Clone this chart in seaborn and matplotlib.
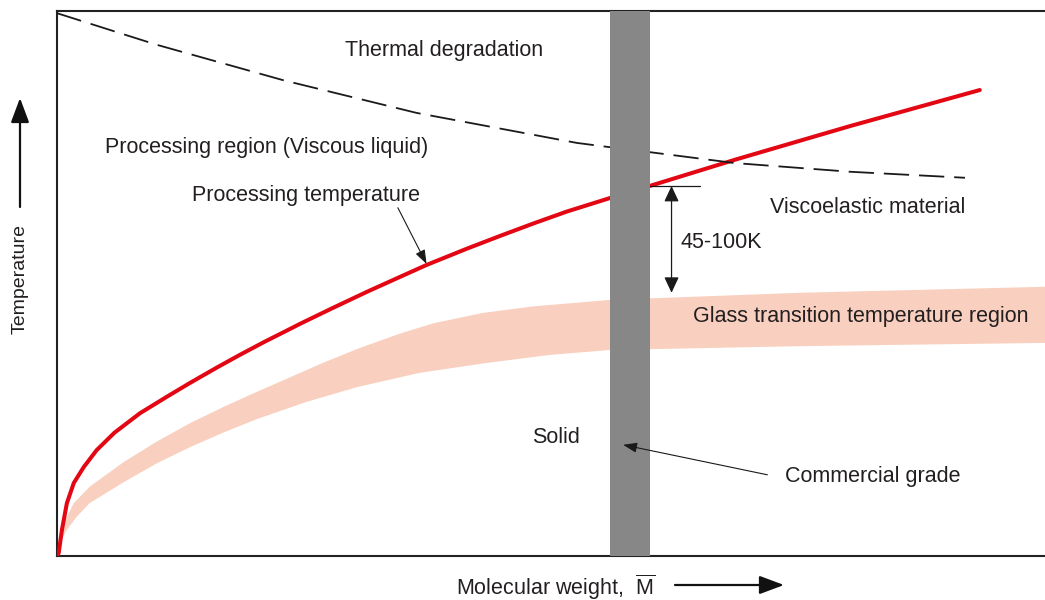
import numpy as np
import pandas as pd
import matplotlib
matplotlib.use("Agg")
import matplotlib.pyplot as plt
import seaborn as sns

# arbitrary units: molecular weight 0..100, temperature 0..100
proc_x = [0, 0.17, 0.5, 1.0, 1.7, 2.7, 4.0, 5.8, 8.4, 11.1, 13.5, 16.2, 18.5, 21.0, 23.3,
          24.6, 27.9, 31.4, 34.7, 37.4, 41.5, 44.8, 48.2, 51.6, 56.0, 60.0, 68.6, 80.3, 93.4]
proc_y = [0, 0.55, 4.8, 9.7, 13.4, 16.3, 19.4, 22.6, 26.2, 29.2, 31.8, 34.6, 36.9, 39.3, 41.4,
          42.6, 45.5, 48.5, 51.2, 53.4, 56.4, 58.7, 61.0, 63.2, 65.7, 67.9, 72.7, 78.9, 85.5]

degr_x = [0, 10.1, 22.9, 36.4, 52.6, 56.0, 60.0, 68.6, 80.3, 91.9]
degr_y = [99.6, 93.8, 87.3, 81.3, 75.8, 75.0, 74.1, 72.1, 70.5, 69.4]

tg_hi_x = [0, 0.17, 0.7, 1.7, 3.3, 6.8, 10.1, 13.5, 16.9, 20.2, 23.6, 27.0, 30.4, 34.7,
           38.1, 43.1, 48.2, 56.0, 75.2, 100]
tg_hi_y = [0, 2.4, 6.1, 9.7, 12.7, 17.3, 21.0, 24.4, 27.4, 30.1, 32.8, 35.5, 38.0, 40.8,
           42.7, 44.6, 45.8, 47.0, 48.3, 49.4]
tg_lo_x = [0, 0.3, 1.0, 2.0, 3.3, 6.8, 10.1, 13.5, 16.9, 20.2, 25.3, 30.4, 36.7, 43.4,
           49.9, 56.0, 75.2, 100]
tg_lo_y = [0, 2.4, 4.8, 7.2, 9.7, 13.6, 17.0, 20.0, 22.7, 25.1, 28.3, 31.0, 33.6, 35.4,
           36.9, 37.8, 38.5, 39.1]

grade_lo, grade_hi = 56.0, 60.0
gap_top, gap_bottom, gap_x = 67.9, 48.3, 62.2

sns.set_theme(style="white")
plt.rcParams['font.family'] = ['Liberation Sans', 'DejaVu Sans']
plt.rcParams['mathtext.fontset'] = 'custom'
plt.rcParams['mathtext.rm'] = 'Liberation Sans'

RED = "#e30613"
BAND = "#f9d0bf"
GREY = "#878787"
TXT = "#231f20"

fig = plt.figure(figsize=(10.45, 6), dpi=100)
ax = fig.add_axes([57/1045, 44/600, 988/1045, 545/600])
ax.set_xlim(0, 100)
ax.set_ylim(0, 100)

# glass transition band
ax.fill(tg_hi_x + tg_lo_x[::-1], tg_hi_y + tg_lo_y[::-1], color=BAND, lw=0, zorder=1)

df_p = pd.DataFrame({"M": proc_x, "T": proc_y})
sns.lineplot(data=df_p, x="M", y="T", ax=ax, sort=False, estimator=None,
             color=RED, linewidth=2.9, zorder=3)
df_d = pd.DataFrame({"M": degr_x, "T": degr_y})
sns.lineplot(data=df_d, x="M", y="T", ax=ax, sort=False, estimator=None,
             color="#1a1a1a", linewidth=1.3, linestyle=(0, (14, 5.5)), zorder=3)

# commercial grade bar
ax.axvspan(grade_lo, grade_hi, color=GREY, lw=0, zorder=4)

# 45-100K dimension
ax.plot([grade_hi, 65.1], [gap_top, gap_top], color="#1a1a1a", lw=0.9, zorder=5)
ax.annotate("", xy=(gap_x, gap_bottom), xytext=(gap_x, gap_top),
            arrowprops=dict(arrowstyle="<|-|>,head_length=0.6,head_width=0.28",
                            mutation_scale=16, color="#1a1a1a", lw=0.9,
                            shrinkA=0, shrinkB=0), zorder=5)

fs = 15.5
ax.text(29.1, 92.8, "Thermal degradation", fontsize=fs, color=TXT, va="center")
ax.text(4.9, 74.9, "Processing region (Viscous liquid)", fontsize=fs, color=TXT, va="center")
ax.text(13.7, 66.2, "Processing temperature", fontsize=fs, color=TXT, va="center")
ax.text(72.2, 63.9, "Viscoelastic material", fontsize=fs, color=TXT, va="center")
ax.text(63.1, 57.6, "45-100K", fontsize=fs, color=TXT, va="center")
ax.text(64.4, 44.0, "Glass transition temperature region", fontsize=fs, color=TXT, va="center")
ax.text(48.1, 21.7, "Solid", fontsize=fs, color=TXT, va="center")
ax.text(73.7, 14.5, "Commercial grade", fontsize=fs, color=TXT, va="center")

thin = dict(arrowstyle="-|>,head_length=0.6,head_width=0.22", mutation_scale=14,
            color="#1a1a1a", lw=0.8, shrinkA=0, shrinkB=0)
ax.annotate("", xy=(37.4, 53.6), xytext=(34.5, 63.9), arrowprops=thin, zorder=6)
ax.annotate("", xy=(57.3, 20.4), xytext=(71.9, 14.9), arrowprops=thin, zorder=6)

# frame
for s in ["left", "bottom", "top"]:
    ax.spines[s].set_color("#222222")
    ax.spines[s].set_linewidth(1.5)
ax.spines["right"].set_visible(False)
ax.set_xticks([])
ax.set_yticks([])
ax.set_xlabel("")
ax.set_ylabel("")

# axis labels with arrows (figure coords)
big = dict(arrowstyle="-|>,head_length=0.75,head_width=0.28", mutation_scale=20,
           color="#111111", lw=1.6, shrinkA=0, shrinkB=0)
fig.text(20/1045, 1 - 279/600, "Temperature", rotation=90, fontsize=14,
         color=TXT, ha="center", va="center")
ax.annotate("", xy=(20/1045, 1 - 98/600), xytext=(20/1045, 1 - 207/600),
            xycoords="figure fraction", textcoords="figure fraction", arrowprops=big)
fig.text(556/1045, 1 - 595/600, r"Molecular weight,  $\overline{\mathrm{M}}$", fontsize=fs,
         color=TXT, ha="center", va="baseline")
ax.annotate("", xy=(784/1045, 1 - 585/600), xytext=(675/1045, 1 - 585/600),
            xycoords="figure fraction", textcoords="figure fraction", arrowprops=big)

fig.savefig("out.png", dpi=100)
